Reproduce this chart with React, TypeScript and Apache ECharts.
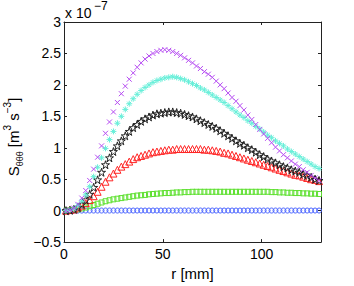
import React, { useEffect, useRef } from "react";
import * as echarts from "echarts";

// r positions [mm]
const rValues = [
  1, 3, 5, 7, 9, 11, 13, 15, 17, 19,
  21, 23, 25, 27, 29, 31, 33, 35, 37, 39,
  41, 43, 45, 47, 49, 51, 53, 55, 57, 59,
  61, 63, 65, 67, 69, 71, 73, 75, 77, 79,
  81, 83, 85, 87, 89, 91, 93, 95, 97, 99,
  101, 103, 105, 107, 109, 111, 113, 115, 117, 119,
  121, 123, 125, 127, 129,
];

// S_θθθ values in units of 1e-7 m^3 s^-3
const sBlue = [
  0, 0, 0.001, 0.001, 0.001, 0.002, 0.002, 0.002, 0.002, 0.002,
  0.002, 0.002, 0.002, 0.002, 0.002, 0.002, 0.002, 0.002, 0.002, 0.002,
  0.002, 0.002, 0.002, 0.002, 0.002, 0.002, 0.002, 0.002, 0.002, 0.002,
  0.002, 0.002, 0.002, 0.002, 0.002, 0.002, 0.002, 0.002, 0.002, 0.002,
  0.002, 0.002, 0.002, 0.002, 0.002, 0.002, 0.002, 0.002, 0.002, 0.002,
  0.002, 0.002, 0.002, 0.002, 0.002, 0.002, 0.002, 0.002, 0.002, 0.002,
  0.002, 0.002, 0.002, 0.002, 0.002,
];
const sGreen = [
  0, 0.005, 0.01, 0.02, 0.035, 0.05, 0.07, 0.09, 0.11, 0.13,
  0.15, 0.165, 0.18, 0.19, 0.2, 0.21, 0.22, 0.23, 0.24, 0.245,
  0.25, 0.26, 0.265, 0.27, 0.275, 0.28, 0.28, 0.285, 0.29, 0.29,
  0.295, 0.295, 0.3, 0.3, 0.3, 0.3, 0.3, 0.3, 0.3, 0.3,
  0.3, 0.3, 0.3, 0.3, 0.3, 0.3, 0.3, 0.3, 0.3, 0.3,
  0.3, 0.3, 0.295, 0.295, 0.29, 0.29, 0.285, 0.285, 0.28, 0.28,
  0.275, 0.275, 0.27, 0.27, 0.265,
];
const sRed = [
  0, 0.01, 0.02, 0.05, 0.08, 0.12, 0.17, 0.23, 0.3, 0.38,
  0.46, 0.53, 0.59, 0.65, 0.7, 0.74, 0.78, 0.82, 0.85, 0.87,
  0.89, 0.91, 0.93, 0.94, 0.95, 0.96, 0.97, 0.97, 0.98, 0.98,
  0.98, 0.98, 0.98, 0.98, 0.98, 0.97, 0.97, 0.96, 0.95, 0.94,
  0.92, 0.91, 0.89, 0.87, 0.85, 0.83, 0.81, 0.79, 0.77, 0.75,
  0.73, 0.71, 0.69, 0.67, 0.65, 0.63, 0.61, 0.59, 0.57, 0.56,
  0.54, 0.52, 0.5, 0.49, 0.47,
];
const sBlack = [
  0, 0.005, 0.02, 0.05, 0.1, 0.17, 0.26, 0.37, 0.49, 0.61,
  0.73, 0.84, 0.94, 1.03, 1.11, 1.19, 1.26, 1.32, 1.37, 1.42,
  1.46, 1.49, 1.52, 1.54, 1.55, 1.56, 1.57, 1.57, 1.56, 1.55,
  1.53, 1.51, 1.49, 1.46, 1.43, 1.4, 1.37, 1.34, 1.31, 1.27,
  1.23, 1.19, 1.15, 1.11, 1.07, 1.04, 1.0, 0.97, 0.93, 0.89,
  0.86, 0.82, 0.79, 0.76, 0.73, 0.7, 0.68, 0.65, 0.63, 0.61,
  0.58, 0.56, 0.53, 0.5, 0.48,
];
const sCyan = [
  0, 0.01, 0.03, 0.08, 0.15, 0.25, 0.38, 0.54, 0.69, 0.84,
  0.99, 1.13, 1.26, 1.39, 1.5, 1.61, 1.7, 1.78, 1.85, 1.91,
  1.96, 2.0, 2.04, 2.07, 2.09, 2.11, 2.12, 2.13, 2.12, 2.1,
  2.08, 2.05, 2.02, 1.99, 1.95, 1.92, 1.88, 1.84, 1.8, 1.76,
  1.72, 1.67, 1.62, 1.57, 1.52, 1.48, 1.43, 1.39, 1.34, 1.3,
  1.25, 1.2, 1.16, 1.11, 1.07, 1.03, 0.98, 0.94, 0.9, 0.86,
  0.82, 0.78, 0.74, 0.7, 0.67,
];
const sPurple = [
  0, 0.01, 0.04, 0.1, 0.2, 0.32, 0.48, 0.66, 0.85, 1.03,
  1.23, 1.41, 1.57, 1.72, 1.86, 1.98, 2.09, 2.19, 2.28, 2.35,
  2.41, 2.46, 2.5, 2.53, 2.55, 2.56, 2.55, 2.53, 2.5, 2.47,
  2.43, 2.39, 2.35, 2.3, 2.26, 2.21, 2.17, 2.12, 2.06, 2.0,
  1.94, 1.87, 1.8, 1.74, 1.67, 1.6, 1.52, 1.45, 1.37, 1.29,
  1.22, 1.15, 1.08, 1.01, 0.95, 0.89, 0.84, 0.79, 0.74, 0.7,
  0.65, 0.61, 0.56, 0.52, 0.48,
];

const FONT = "Liberation Sans, Arial, Helvetica, sans-serif";

const STAR =
  "path://M50,0L61.17,34.63L97.55,34.55L68.07,55.87L79.39,90.45L50,69L20.61,90.45L31.93,55.87L2.45,34.55L38.83,34.63Z";
const CROSS = "path://M0,0L10,10M10,0L0,10";
const ASTER = "path://M5,0L5,10M0,5L10,5M1.5,1.5L8.5,8.5M8.5,1.5L1.5,8.5";

function mk(name: string, vals: number[], symbol: string, size: number, color: string) {
  return {
    name,
    type: "scatter",
    symbol,
    symbolSize: size,
    data: rValues.map((r, i) => [r, vals[i]]),
    itemStyle: { color: "rgba(0,0,0,0)", borderColor: color, borderWidth: 1, opacity: 1 },
    emphasis: { disabled: true },
  };
}

export default function App() {
  const ref = useRef<HTMLDivElement>(null);
  useEffect(() => {
    if (!ref.current) return;
    const chart = echarts.init(ref.current, undefined, { renderer: "svg" });
    const axisCommon = {
      axisLine: { show: true, onZero: false, lineStyle: { color: "#222", width: 1 } },
      axisTick: { show: true, inside: true, length: 3, lineStyle: { color: "#222" } },
      splitLine: { show: false },
    };
    chart.setOption({
      animation: false,
      grid: { left: 64, right: 33, top: 22, bottom: 37, show: false },
      xAxis: [
        {
          type: "value",
          min: 0,
          max: 130,
          interval: 50,
          ...axisCommon,
          axisLabel: {
            color: "#000",
            fontFamily: FONT,
            fontSize: 14,
            margin: 5,
            showMaxLabel: false,
            formatter: (v: number) => (v % 50 === 0 ? String(v) : ""),
          },
          name: "r [mm]",
          nameLocation: "middle",
          nameGap: 23,
          nameTextStyle: { color: "#000", fontFamily: FONT, fontSize: 15 },
        },
        {
          type: "value",
          position: "top",
          min: 0,
          max: 130,
          interval: 50,
          ...axisCommon,
          axisLabel: { show: false },
        },
      ],
      yAxis: [
        {
          type: "value",
          min: -0.5,
          max: 3,
          interval: 0.5,
          ...axisCommon,
          axisLabel: {
            color: "#000",
            fontFamily: FONT,
            fontSize: 14,
            margin: 3,
            formatter: (v: number) => String(v).replace("-", "\u2212"),
          },
        },
        {
          type: "value",
          position: "right",
          min: -0.5,
          max: 3,
          interval: 0.5,
          ...axisCommon,
          axisLabel: { show: false },
        },
      ],
      graphic: [
        {
          type: "text",
          x: 65,
          y: 6,
          style: { text: "x 10", font: `14px ${FONT}`, fill: "#000", verticalAlign: "top" },
        },
        {
          type: "text",
          x: 94,
          y: 0,
          style: { text: "\u22127", font: `12px ${FONT}`, fill: "#000", verticalAlign: "top" },
        },
        {
          type: "text",
          x: 13,
          y: 137,
          rotation: Math.PI / 2,
          style: {
            text: "{n|S}{sub|θθθ}{n| [m}{sup|3}{n| s}{sup|\u22123}{n|]}",
            align: "center",
            verticalAlign: "middle",
            fill: "#000",
            rich: {
              n: { fontFamily: FONT, fontSize: 15, lineHeight: 22, fill: "#000" },
              sub: { fontFamily: FONT, fontSize: 9, lineHeight: 11, verticalAlign: "bottom", fill: "#000" },
              sup: { fontFamily: FONT, fontSize: 10, lineHeight: 12, verticalAlign: "top", fill: "#000" },
            },
          },
        },
      ],
      series: [
        mk("blue", sBlue, "circle", 5, "#4560ff"),
        mk("green", sGreen, "rect", 5, "#5ee030"),
        mk("red", sRed, "triangle", 7, "#ff2525"),
        mk("black", sBlack, STAR, 8, "#222222"),
        mk("cyan", sCyan, ASTER, 6, "#66efd9"),
        mk("purple", sPurple, CROSS, 5, "#b64cf2"),
      ],
    });
    return () => chart.dispose();
  }, []);
  return (
    <div
      ref={ref}
      style={{ position: "absolute", left: 0, top: 0, width: 354, height: 286, background: "#fff" }}
    />
  );
}
